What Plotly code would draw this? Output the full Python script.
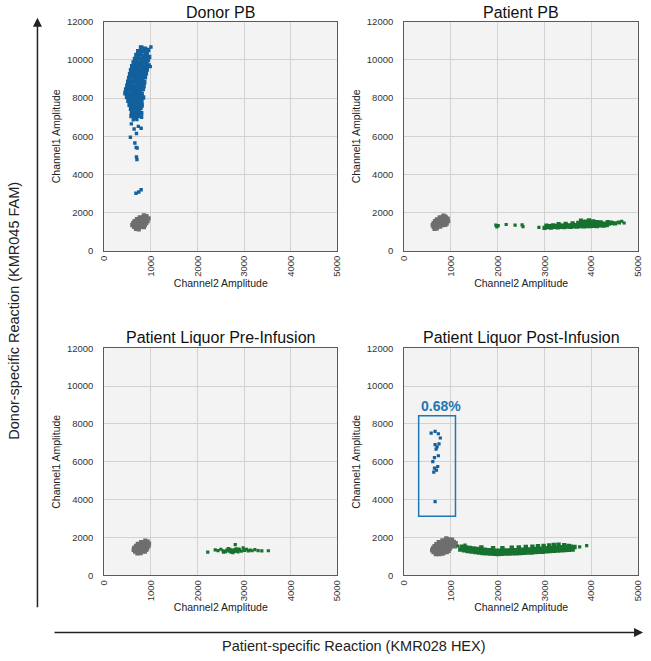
import plotly.graph_objects as go
from plotly.subplots import make_subplots

# Panel titles and axis ticks
panel_titles = ["Donor PB", "Patient PB", "Patient Liquor Pre-Infusion", "Patient Liquor Post-Infusion"]
x_ticks = [0, 1000, 2000, 3000, 4000, 5000]
y_ticks = [0, 2000, 4000, 6000, 8000, 10000, 12000]

# Droplet amplitudes as (Channel2, Channel1)
donor_pb_blue = [
    (790, 10650), (870, 10580), (730, 10450), (810, 10480), (900, 10400), (940, 10520),
    (690, 10260), (760, 10300), (840, 10230), (910, 10280), (960, 10150),
    (660, 10050), (730, 10100), (800, 10030), (870, 10080), (930, 10000),
    (630, 9860), (700, 9880), (770, 9830), (840, 9870), (905, 9820),
    (600, 9660), (670, 9640), (740, 9690), (810, 9650), (875, 9610), (950, 9700),
    (575, 9450), (645, 9470), (715, 9430), (785, 9480), (855, 9440), (910, 9500),
    (555, 9250), (625, 9270), (695, 9230), (765, 9280), (835, 9240), (890, 9300),
    (535, 9050), (605, 9080), (675, 9040), (745, 9060), (815, 9030), (870, 9090),
    (515, 8860), (585, 8840), (655, 8880), (725, 8850), (795, 8870), (855, 8830),
    (495, 8650), (565, 8670), (635, 8640), (705, 8680), (775, 8650), (840, 8620),
    (470, 8450), (545, 8470), (615, 8430), (685, 8460), (755, 8440), (825, 8480),
    (455, 8260), (525, 8240), (595, 8280), (665, 8250), (735, 8270), (800, 8230),
    (490, 8060), (560, 8040), (630, 8080), (700, 8050), (770, 8070), (830, 8030),
    (520, 7860), (590, 7840), (660, 7880), (730, 7850), (795, 7870),
    (545, 7660), (615, 7640), (685, 7680), (750, 7650), (800, 7620),
    (575, 7450), (645, 7470), (715, 7430), (775, 7480),
    (595, 7260), (665, 7240), (735, 7280), (790, 7200),
    (585, 7060), (655, 7040), (720, 7080),
    (610, 9150), (720, 8950), (580, 8550), (660, 8350), (750, 9560), (820, 9160),
    (690, 7560), (630, 7950), (560, 8750), (780, 8760), (700, 9760), (860, 9960),
]
donor_pb_blue_sparse = [
    (1000, 10680), (985, 9650), (800, 7000), (620, 6860), (700, 6880), (660, 6950),
    (580, 6650), (730, 6520), (640, 6380), (790, 6420), (560, 5950), (690, 6150),
    (655, 5650), (685, 5420), (705, 5380), (690, 4920), (700, 4780),
    (680, 3020), (740, 3080), (790, 3200),
]
donor_pb_gray = [
    (850, 1860), (905, 1820), (760, 1760), (830, 1770), (900, 1740), (950, 1700),
    (700, 1660), (770, 1650), (840, 1670), (910, 1640), (650, 1560), (720, 1550),
    (790, 1570), (860, 1540), (930, 1560), (620, 1450), (690, 1460), (760, 1440),
    (830, 1470), (900, 1450), (600, 1350), (670, 1340), (740, 1360), (810, 1330),
    (870, 1350), (640, 1250), (710, 1230), (780, 1260), (850, 1240), (680, 1150), (740, 1130),
]

patient_pb_gray = [
    (840, 1840), (880, 1790), (760, 1750), (820, 1760), (890, 1730), (930, 1690),
    (700, 1650), (770, 1660), (840, 1640), (910, 1620), (660, 1560), (730, 1540),
    (800, 1570), (870, 1530), (940, 1550), (630, 1450), (700, 1470), (770, 1440),
    (840, 1460), (910, 1430), (610, 1350), (680, 1330), (750, 1360), (820, 1340),
    (880, 1360), (630, 1250), (700, 1240), (770, 1270), (650, 1150), (700, 1170),
]
patient_pb_green = [
    (3000, 1200), (3070, 1240), (3140, 1220), (3210, 1250), (3280, 1230), (3350, 1260),
    (3420, 1240), (3490, 1270), (3560, 1250), (3630, 1280), (3700, 1270), (3770, 1290),
    (3840, 1280), (3910, 1300), (3980, 1290), (4050, 1310), (4120, 1300), (4190, 1330),
    (4260, 1320), (4330, 1340),
    (3040, 1320), (3110, 1300), (3180, 1330), (3250, 1310), (3320, 1340), (3390, 1320),
    (3460, 1350), (3530, 1330), (3600, 1360), (3670, 1350), (3740, 1380), (3810, 1370),
    (3880, 1400), (3950, 1390), (4020, 1410), (4090, 1400), (4160, 1420), (4230, 1410),
    (4300, 1430), (4370, 1420), (4440, 1450), (4510, 1440),
    (3300, 1400), (3450, 1420), (3600, 1440), (3720, 1470), (3800, 1500), (3880, 1530),
    (3960, 1510), (4040, 1540), (4120, 1500), (4200, 1490), (4350, 1500), (4420, 1480),
    (3780, 1580), (3950, 1600),
]
patient_pb_green_sparse = [
    (1960, 1350), (1980, 1250), (2010, 1320), (2180, 1380), (2370, 1350), (2520, 1360),
    (2540, 1270), (2880, 1230), (4580, 1500), (4650, 1550), (4700, 1460), (4600, 1470),
]

pre_gray = [
    (880, 1830), (930, 1780), (790, 1760), (850, 1750), (910, 1710), (960, 1680),
    (720, 1660), (790, 1650), (860, 1640), (930, 1620), (680, 1560), (750, 1540),
    (820, 1560), (890, 1530), (950, 1540), (640, 1450), (710, 1460), (780, 1440),
    (850, 1460), (920, 1430), (630, 1350), (700, 1330), (770, 1360), (840, 1340),
    (900, 1350), (660, 1250), (730, 1240), (800, 1260), (870, 1250), (710, 1160), (780, 1170),
]
pre_green = [
    (2220, 1230), (2380, 1350), (2440, 1310), (2500, 1380), (2550, 1290), (2600, 1250),
    (2630, 1330), (2680, 1280), (2700, 1380), (2720, 1230), (2750, 1300), (2780, 1350),
    (2800, 1260), (2810, 1620), (2830, 1400), (2850, 1300), (2870, 1240), (2900, 1340),
    (2940, 1280), (2980, 1450), (3010, 1320), (3050, 1380), (3090, 1290), (3130, 1340),
    (3170, 1300), (3230, 1360), (3300, 1310), (3380, 1290), (3520, 1300), (2660, 1410),
    (2560, 1220), (2760, 1200), (2890, 1390),
]

post_blue = [
    (577, 7516), (661, 7602), (731, 7481), (773, 7256), (661, 6909), (703, 6788),
    (682, 6667), (731, 6320), (647, 6216), (612, 6009), (717, 5750), (647, 5662),
    (633, 5454), (661, 3896), (745, 6950), (690, 5560),
]
post_gray = [
    (900, 1950), (960, 1900), (1020, 1880), (820, 1850), (880, 1820), (950, 1800),
    (1060, 1760), (740, 1750), (800, 1730), (870, 1700), (940, 1710), (1000, 1680),
    (690, 1650), (750, 1620), (820, 1640), (890, 1600), (960, 1620), (1030, 1590),
    (650, 1540), (710, 1520), (780, 1550), (850, 1510), (920, 1530), (990, 1500),
    (620, 1430), (690, 1420), (760, 1440), (830, 1410), (900, 1430), (970, 1400),
    (600, 1330), (670, 1320), (740, 1340), (810, 1310), (880, 1330), (950, 1300),
    (630, 1230), (700, 1220), (770, 1240), (840, 1210), (910, 1230), (680, 1130),
    (750, 1120), (820, 1150), (1100, 1700), (1080, 1540),
]
post_green = [
    (1200, 1370), (1280, 1330), (1360, 1290), (1440, 1260), (1520, 1230), (1600, 1200),
    (1680, 1180), (1760, 1160), (1840, 1150), (1920, 1140), (2000, 1130), (2080, 1140),
    (2160, 1150), (2240, 1150), (2320, 1160), (2400, 1170), (2480, 1180), (2560, 1190),
    (2640, 1200), (2720, 1210), (2800, 1230), (2880, 1240), (2960, 1250), (3040, 1270),
    (3120, 1280), (3200, 1300), (3280, 1310), (3360, 1320), (3440, 1340), (3520, 1350),
    (3600, 1370),
    (1240, 1520), (1320, 1480), (1400, 1450), (1480, 1420), (1560, 1400), (1640, 1370),
    (1720, 1350), (1800, 1330), (1880, 1320), (1960, 1300), (2040, 1300), (2120, 1310),
    (2200, 1320), (2280, 1320), (2360, 1330), (2440, 1340), (2520, 1350), (2600, 1360),
    (2680, 1370), (2760, 1390), (2840, 1400), (2920, 1410), (3000, 1430), (3080, 1440),
    (3160, 1450), (3240, 1460), (3320, 1480), (3400, 1490), (3480, 1500), (3560, 1520),
    (3640, 1500),
    (1650, 1480), (1900, 1440), (2100, 1430), (2300, 1460), (2450, 1480), (2600, 1500),
    (2740, 1520), (2860, 1540), (2980, 1560), (3100, 1580), (3200, 1610), (3300, 1620),
    (3420, 1600), (3520, 1560), (2040, 1220), (2500, 1250), (3000, 1330), (3300, 1390),
    (1420, 1380), (1560, 1330),
]
post_green_sparse = [(3750, 1500), (3900, 1570), (1150, 1550), (1300, 1600)]

BLUE = "#12609c"
GRAY = "#6e6e6e"
GREEN = "#17722f"
FONT = "Arial, Liberation Sans, sans-serif"

# (row, col, [(points, colour, marker size)])
panels = [
    (1, 1, [(donor_pb_blue, BLUE, 4.6), (donor_pb_blue_sparse, BLUE, 3.4), (donor_pb_gray, GRAY, 4.2)]),
    (1, 2, [(patient_pb_gray, GRAY, 4.2), (patient_pb_green, GREEN, 4.2), (patient_pb_green_sparse, GREEN, 3.2)]),
    (2, 1, [(pre_gray, GRAY, 4.2), (pre_green, GREEN, 3.2)]),
    (2, 2, [(post_gray, GRAY, 4.4), (post_green, GREEN, 4.4), (post_green_sparse, GREEN, 3.2),
            (post_blue, BLUE, 3.2)]),
]

fig = make_subplots(rows=2, cols=2)

for row, col, groups in panels:
    for pts, color, size in groups:
        fig.add_trace(
            go.Scatter(
                x=[p[0] for p in pts],
                y=[p[1] for p in pts],
                mode="markers",
                marker=dict(symbol="square", size=size, color=color, line=dict(width=0)),
                showlegend=False,
                hoverinfo="x+y",
            ),
            row=row, col=col,
        )

x_domains = {1: [100 / 651, 337 / 651], 2: [405 / 651, 643 / 651]}
y_domains = {1: [1 - 249 / 661, 1 - 16 / 661], 2: [1 - 579 / 661, 1 - 348 / 661]}

axis_style = dict(
    showgrid=True, gridcolor="#d2d2d2", gridwidth=1,
    showline=True, linecolor="#5a5a5a", linewidth=1, mirror=True,
    zeroline=False, ticks="", tickformat="d",
    tickfont=dict(size=9.5, color="#333", family=FONT),
)

for row in (1, 2):
    for col in (1, 2):
        fig.update_xaxes(
            domain=x_domains[col], range=[0, 5000], tickvals=x_ticks, tickangle=-90,
            title=dict(text="Channel2 Amplitude", standoff=0, font=dict(size=10.5, color="#222", family=FONT)),
            row=row, col=col, **axis_style,
        )
        fig.update_yaxes(
            domain=y_domains[row], range=[0, 12000], tickvals=y_ticks, ticklabelstandoff=8,
            title=dict(text="Channel1 Amplitude", standoff=4, font=dict(size=10.5, color="#222", family=FONT)),
            row=row, col=col, **axis_style,
        )

annotations = []
title_y = [1 - 7 / 661, 1 - 337 / 661]
for i, name in enumerate(panel_titles):
    r, c = divmod(i, 2)
    xd = x_domains[c + 1]
    annotations.append(dict(
        text=name, x=(xd[0] + xd[1]) / 2, y=title_y[r], xref="paper", yref="paper",
        xanchor="center", yanchor="middle", showarrow=False,
        font=dict(size=16, color="#111", family=FONT),
    ))

# percentage label above the highlighted donor droplets
annotations.append(dict(
    text="<b>0.68%</b>", x=310, y=8950, xref="x4", yref="y4", xanchor="left", yanchor="middle",
    showarrow=False, font=dict(size=14, color="#1f77b4", family=FONT),
))

# outer axis arrows (tail offsets in pixels)
annotations.append(dict(
    text="", x=32 / 651, y=1 - 12 / 661, ax=0, ay=591,
    xref="paper", yref="paper",
    showarrow=True, arrowhead=2, arrowsize=1.2, arrowwidth=1.5, arrowcolor="#222",
))
annotations.append(dict(
    text="", x=648 / 651, y=1 - 637 / 661, ax=-590, ay=0,
    xref="paper", yref="paper",
    showarrow=True, arrowhead=2, arrowsize=1.2, arrowwidth=1.5, arrowcolor="#222",
))
annotations.append(dict(
    text="Donor-specific Reaction (KMR045 FAM)", x=8 / 651, y=1 - 310 / 661,
    xref="paper", yref="paper", textangle=-90, showarrow=False,
    xanchor="center", yanchor="middle", font=dict(size=14.5, color="#222", family=FONT),
))
annotations.append(dict(
    text="Patient-specific Reaction (KMR028 HEX)", x=354 / 651, y=1 - 651 / 661,
    xref="paper", yref="paper", showarrow=False,
    xanchor="center", yanchor="middle", font=dict(size=14.5, color="#222", family=FONT),
))

fig.update_layout(
    width=651, height=661,
    margin=dict(l=0, r=0, t=0, b=0),
    paper_bgcolor="white",
    plot_bgcolor="#f3f3f3",
    font=dict(family=FONT),
    annotations=annotations,
    shapes=[dict(
        type="rect", xref="x4", yref="y4", x0=310, x1=1097, y0=3117, y1=8430,
        line=dict(color="#1f77b4", width=1.5),
    )],
)

# drop the default page margin so the figure sits flush in the window
fig.write_html(
    "out.html",
    config={"displayModeBar": False},
    post_script="document.body.style.margin='0';document.body.style.overflow='hidden';",
)
